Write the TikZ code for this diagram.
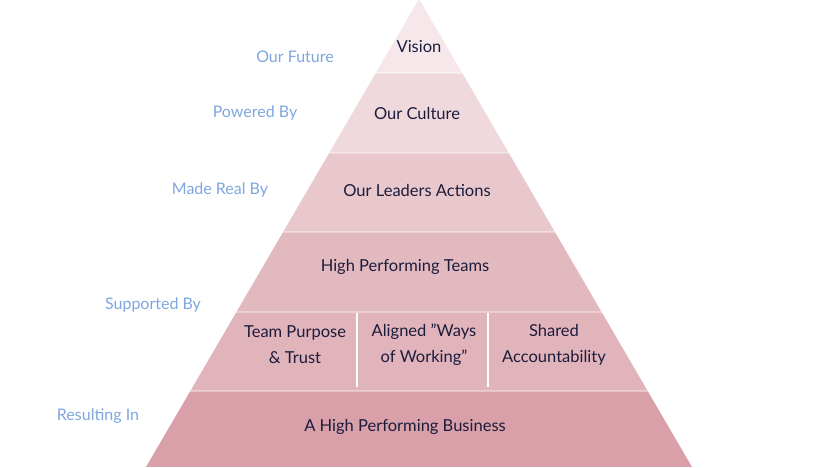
\documentclass[tikz,border=0pt]{standalone}
\usepackage{fontspec}
\setmainfont{Lato}
\definecolor{lab}{HTML}{7EA6DF}
\definecolor{ink}{HTML}{1C1C3C}
\definecolor{b1}{HTML}{F6E8EA}
\definecolor{b2}{HTML}{F0D9DC}
\definecolor{b3}{HTML}{E9C8CD}
\definecolor{b4}{HTML}{E3B9C0}
\definecolor{b5}{HTML}{E1B4BB}
\definecolor{b6}{HTML}{D9A0A9}
\tikzset{lbl/.style={text=lab,font=\fontsize{16}{19}\selectfont},
 txt/.style={text=ink,font=\fontsize{16.5}{26}\selectfont,align=center},
 sep/.style={draw=white,opacity=0.35,line width=1.5pt}}
\begin{document}
\begin{tikzpicture}[x=1pt,y=-1pt]
\useasboundingbox (0,0) rectangle (839,467);
\begin{scope}
\clip (419,-1) -- (692,467) -- (146,467) -- cycle;
\fill[b1] (0,0) rectangle (839,73);
\fill[b2] (0,73) rectangle (839,153);
\fill[b3] (0,153) rectangle (839,232);
\fill[b4] (0,232) rectangle (839,312);
\fill[b5] (0,312) rectangle (839,391);
\fill[b6] (0,391) rectangle (839,467);
\foreach \y in {73,153,232,312,391} \draw[sep] (0,\y) -- (839,\y);
\end{scope}
\coordinate (v1t) at (357,313); \coordinate (v1b) at (357,387);
\coordinate (v2t) at (488,313); \coordinate (v2b) at (488,387);
\draw[white,line width=2pt] (v1t) -- (v1b);
\draw[white,line width=2pt] (v2t) -- (v2b);
\node[lbl] (l1) at (295,57) {Our Future};
\node[lbl] (l2) at (255,113) {Powered By};
\node[lbl] (l3) at (220,190) {Made Real By};
\node[lbl] (l4) at (153,305) {Supported By};
\node[lbl] (l5) at (98,416) {Resulting In};
\node[txt] (t1) at (419,47) {Vision};
\node[txt] (t2) at (417,113) {Our Culture};
\node[txt] (t3) at (417,190) {Our Leaders Actions};
\node[txt] (t4) at (405,267) {High Performing Teams};
\node[txt] (t5) at (295,345) {Team Purpose\\\& Trust};
\node[txt] (t6) at (424,345) {Aligned "Ways\\of Working"};
\node[txt] (t7) at (554,345) {Shared\\Accountability};
\node[txt] (t8) at (405,427) {A High Performing Business};
\end{tikzpicture}
\end{document}
